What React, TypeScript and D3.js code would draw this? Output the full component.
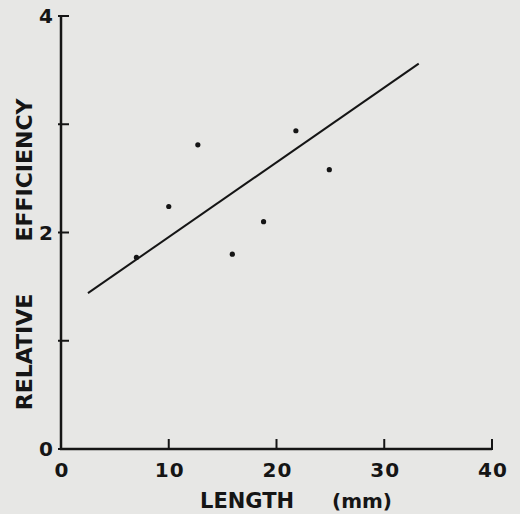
import React from 'react';
import * as d3 from 'd3';

// measured values (length in mm, relative efficiency)
const lengths = [7, 10, 12.7, 15.9, 18.8, 21.8, 24.9];
const efficiency = [1.77, 2.24, 2.81, 1.8, 2.1, 2.94, 2.58];

// fitted line end points
const fitX = [2.5, 33.2];
const fitY = [1.44, 3.56];

const xTicks = [0, 10, 20, 30, 40];
const yTicks = [0, 1, 2, 3, 4];
const yTickLabels = [0, 2, 4];

const W = 520;
const H = 514;
const ink = '#151515';
const font = '"DejaVu Sans", Verdana, sans-serif';

const App: React.FC = () => {
  const x = d3.scaleLinear().domain([0, 40]).range([61, 492]);
  const y = d3.scaleLinear().domain([0, 4]).range([449, 16]);

  const line = d3.line<number>()
    .x((_, i) => x(fitX[i]))
    .y(d => y(d));

  return (
    <svg
      width={W}
      height={H}
      style={{ position: 'absolute', left: 0, top: 0, display: 'block', background: '#e7e7e5' }}
    >
      {/* axes */}
      <line x1={x(0)} x2={x(0)} y1={y(0) + 1} y2={y(4)} stroke={ink} strokeWidth={2.5} />
      <line x1={x(0) - 1} x2={x(40)} y1={y(0)} y2={y(0)} stroke={ink} strokeWidth={2.5} />

      {yTicks.map(t => (
        <line key={'yt' + t} x1={x(0) - 3} x2={x(0) + 8} y1={y(t)} y2={y(t)} stroke={ink} strokeWidth={2} />
      ))}
      {xTicks.filter(t => t > 0).map(t => (
        <line key={'xt' + t} x1={x(t)} x2={x(t)} y1={y(0) + 1} y2={y(0) - 10} stroke={ink} strokeWidth={2} />
      ))}

      {yTickLabels.map(t => (
        <text
          key={'yl' + t}
          x={x(0) - 8}
          y={y(t) + 7}
          textAnchor="end"
          fontFamily={font}
          fontWeight="bold"
          fontSize={20}
          fill={ink}
        >
          {t}
        </text>
      ))}
      {xTicks.map(t => (
        <text
          key={'xl' + t}
          x={x(t) + 1}
          y={477}
          textAnchor="middle"
          fontFamily={font}
          fontWeight="bold"
          fontSize={20}
          letterSpacing={1}
          fill={ink}
        >
          {t}
        </text>
      ))}

      {/* axis titles */}
      <text
        transform={`translate(32,352) rotate(-90)`}
        textAnchor="middle"
        fontFamily={font}
        fontWeight="bold"
        fontSize={22}
        fill={ink}
      >
        RELATIVE
      </text>
      <text
        transform={`translate(32,170) rotate(-90)`}
        textAnchor="middle"
        fontFamily={font}
        fontWeight="bold"
        fontSize={22}
        fill={ink}
      >
        EFFICIENCY
      </text>
      <text x={200} y={508} fontFamily={font} fontWeight="bold" fontSize={21} fill={ink}>
        LENGTH
      </text>
      <text x={332} y={508} fontFamily={font} fontWeight="bold" fontSize={20} fill={ink}>
        (mm)
      </text>

      {/* fit line */}
      <path d={line(fitY) ?? ''} fill="none" stroke={ink} strokeWidth={2} />

      {/* points */}
      {lengths.map((l, i) => (
        <circle key={'p' + i} cx={x(l)} cy={y(efficiency[i])} r={2.6} fill={ink} />
      ))}
    </svg>
  );
};

export default App;
